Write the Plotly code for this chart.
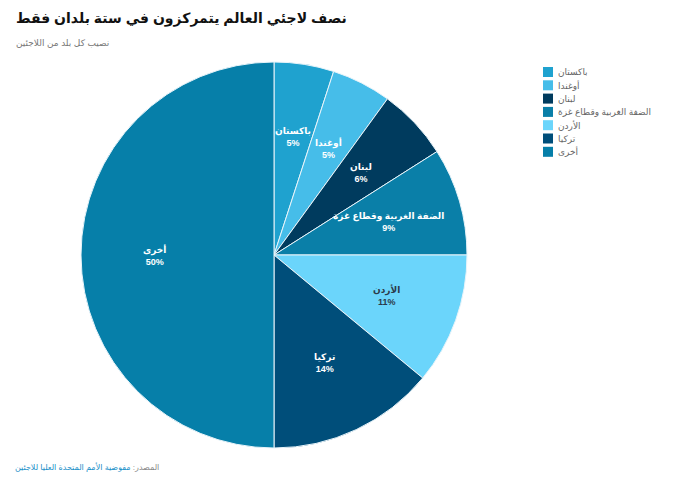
import math
import plotly.graph_objects as go

labels = ["باكستان", "أوغندا", "لبنان", "الضفة الغربية وقطاع غزة", "الأردن", "تركيا", "أخرى"]
values = [5, 5, 6, 9, 11, 14, 50]
colors = ["#1fa2cf", "#46bde9", "#003b5e", "#0a7fa8", "#6bd5fb", "#004e7a", "#067fa9"]
text_colors = ["#ffffff", "#ffffff", "#ffffff", "#ffffff", "#2b3a4a", "#ffffff", "#ffffff"]

W, H = 700, 481
FONT = "Liberation Sans, DejaVu Sans, Arial, sans-serif"

# pie placement (pixels)
CX, CY, R = 274, 255, 193
LABEL_R = 0.62

fig = go.Figure(go.Pie(
    labels=labels,
    values=values,
    sort=False,
    direction="clockwise",
    rotation=0,
    marker=dict(colors=colors, line=dict(color="#e8f4fa", width=1)),
    textinfo="none",
    hoverinfo="label+percent",
    showlegend=False,
    domain=dict(x=[(CX - R) / W, (CX + R) / W], y=[1 - (CY + R) / H, 1 - (CY - R) / H]),
))

annotations = [
    dict(text="<b>نصف لاجئي العالم يتمركزون في ستة بلدان فقط</b>", x=14 / W, y=1 - 18 / H,
         xref="paper", yref="paper", xanchor="left", yanchor="middle", showarrow=False,
         font=dict(size=14, color="#111111", family=FONT)),
    dict(text="نصيب كل بلد من اللاجئين", x=14 / W, y=1 - 43 / H,
         xref="paper", yref="paper", xanchor="left", yanchor="middle", showarrow=False,
         font=dict(size=9, color="#777777", family=FONT)),
    dict(text="<span style='color:#888888'>المصدر: </span>"
              "<span style='color:#1a8fc8'>مفوضية الأمم المتحدة العليا للاجئين</span>",
         x=13 / W, y=1 - 467 / H,
         xref="paper", yref="paper", xanchor="left", yanchor="middle", showarrow=False,
         font=dict(size=8, color="#888888", family=FONT)),
]

# slice labels placed along each slice's mid-angle
total = sum(values)
cum = 0
for lab, v, tc in zip(labels, values, text_colors):
    theta = math.radians((cum + v / 2) / total * 360)
    cum += v
    px = CX + LABEL_R * R * math.sin(theta)
    py = CY - LABEL_R * R * math.cos(theta)
    annotations.append(dict(text=f"<b>{lab}<br>{round(v / total * 100)}%</b>",
                            x=px / W, y=1 - py / H, xref="paper", yref="paper",
                            xanchor="center", yanchor="middle", showarrow=False, align="center",
                            font=dict(size=9, color=tc, family=FONT)))

# legend
shapes = []
lx0, ly0, sq, pitch = 543, 67, 10, 13.3
for i, (lab, col) in enumerate(zip(labels, colors)):
    top = ly0 + i * pitch
    shapes.append(dict(type="rect", xref="paper", yref="paper",
                       x0=lx0 / W, x1=(lx0 + sq) / W,
                       y0=1 - (top + sq) / H, y1=1 - top / H,
                       fillcolor=col, line=dict(width=0)))
    annotations.append(dict(text=lab, x=(lx0 + sq + 3) / W, y=1 - (top + sq / 2) / H,
                            xref="paper", yref="paper", xanchor="left", yanchor="middle",
                            showarrow=False, font=dict(size=9, color="#666666", family=FONT)))

fig.update_layout(
    width=W, height=H,
    margin=dict(l=0, r=0, t=0, b=0),
    paper_bgcolor="#ffffff",
    plot_bgcolor="#ffffff",
    annotations=annotations,
    shapes=shapes,
    font=dict(family=FONT),
)

fig.write_html("out.html", config={"displayModeBar": False},
               post_script="document.body.style.margin='0';")
